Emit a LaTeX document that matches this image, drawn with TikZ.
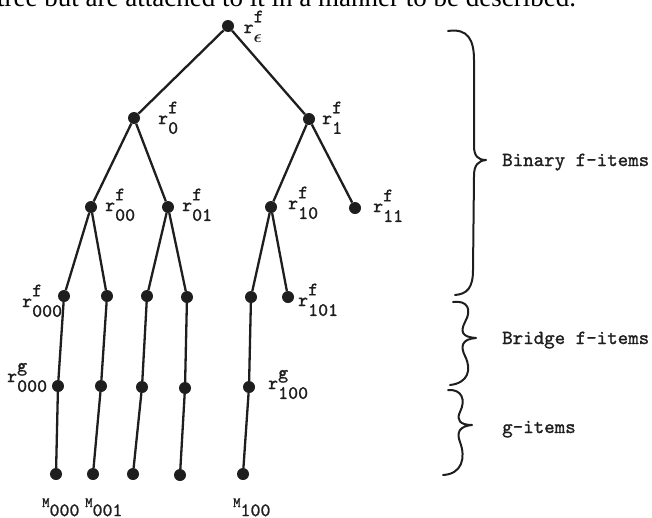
\documentclass[tikz,border=0pt]{standalone}
\usepackage{amsmath}
\usepackage{fontspec}
\newfontfamily\capfont{Liberation Serif}
\newfontfamily\twfont{lmmono10-regular}[Extension=.otf,FakeBold=1.2]
\definecolor{ink}{HTML}{1E1E1E}
\newcommand\lfont{\twfont\fontsize{19}{21}\selectfont}
\newcommand\bfontx{\twfont\fontsize{20}{22}\selectfont}
\newcommand\rlab[2]{r\rlap{\raisebox{0.56em}{#1}}\raisebox{-0.52em}{#2}}
\newcommand\mlab[1]{{\fontsize{14}{16}\selectfont M}\raisebox{-0.48em}{#1}}
\begin{document}
\begin{tikzpicture}[x=1pt,y=-1pt,
  dot/.style={circle,fill=ink,inner sep=0pt,minimum size=12pt},
  edge/.style={draw=ink,line width=2.3pt},
  lab/.style={anchor=base west,inner sep=0pt,font=\lfont,text=ink},
  blab/.style={anchor=base west,inner sep=0pt,font=\bfontx,text=ink},
  bracepath/.style={draw=ink,line width=2pt,line cap=round,line join=round}]
\useasboundingbox (0,0) rectangle (652,517);
% cut-off line of running text
\node[anchor=base west,inner sep=0pt,font=\capfont\fontsize{27}{29}\selectfont] (cap) at (-3,6) {tree but are attached to it in a manner to be described.};
% tree dots
\node[dot] (re) at (228,26) {};
\node[dot] (r0) at (134,118) {};
\node[dot] (r1) at (309,119) {};
\node[dot] (r00) at (91,207) {};
\node[dot] (r01) at (168,207) {};
\node[dot] (r10) at (271,207) {};
\node[dot] (r11) at (355,208) {};
\node[dot] (a3) at (64,296) {};
\node[dot] (b3) at (107,296) {};
\node[dot] (c3) at (147,296) {};
\node[dot] (d3) at (187,297) {};
\node[dot] (e3) at (251,297) {};
\node[dot] (f3) at (288,297) {};
\node[dot] (a4) at (58,386) {};
\node[dot] (b4) at (101,386) {};
\node[dot] (c4) at (142,387) {};
\node[dot] (d4) at (185,388) {};
\node[dot] (e4) at (249,387) {};
\node[dot] (a5) at (56,474) {};
\node[dot] (b5) at (93,474) {};
\node[dot] (c5) at (133,474) {};
\node[dot] (d5) at (180,475) {};
\node[dot] (e5) at (243,474) {};
% edges
\path[edge] (re) -- (r0) (re) -- (r1)
  (r0) -- (r00) (r0) -- (r01) (r1) -- (r10) (r1) -- (r11)
  (r00) -- (a3) (r00) -- (b3) (r01) -- (c3) (r01) -- (d3)
  (r10) -- (e3) (r10) -- (f3)
  (a3) -- (a4) (b3) -- (b4) (c3) -- (c4) (d3) -- (d4) (e3) -- (e4)
  (a4) -- (a5) (b4) -- (b5) (c4) -- (c5) (d4) -- (d5) (e4) -- (e5);
% labels
\node[lab] (lre) at (243.5,33) {\rlab{f}{$\boldsymbol{\epsilon}$}};
\node[lab] (lr0) at (158,124) {\rlab{f}{0}};
\node[lab] (lr1) at (322,124) {\rlab{f}{1}};
\node[lab] (lr00) at (105,211) {\rlab{f}{00}};
\node[lab] (lr01) at (182,211) {\rlab{f}{01}};
\node[lab] (lr10) at (288,209) {\rlab{f}{10}};
\node[lab] (lr11) at (373,212) {\rlab{f}{11}};
\node[lab] (lr000) at (22,307) {\rlab{f}{000}};
\node[lab] (lr101) at (298,306) {\rlab{f}{101}};
\node[lab] (lg000) at (7,382) {\rlab{g}{000}};
\node[lab] (lg100) at (268,389) {\rlab{g}{100}};
\node[lab] (lm000) at (42,507) {\mlab{000}};
\node[lab] (lm001) at (85,507) {\mlab{001}};
\node[lab] (lm100) at (233,507) {\mlab{100}};
% braces
\draw[bracepath] (448,31) .. controls (468,28) and (474,40) .. (474,60)
  -- (474,146) .. controls (474,156) and (478,160) .. (486,160)
  .. controls (478,161) and (474,165) .. (474,176)
  -- (473,270) .. controls (473,288) and (467,294) .. (455,295);
\draw[bracepath] (453,302) .. controls (468,300) and (472,310) .. (465,322)
  .. controls (460,332) and (462,337) .. (476,338)
  .. controls (462,339) and (460,346) .. (465,356)
  .. controls (472,370) and (468,383) .. (450,385);
\draw[bracepath] (448,390) .. controls (462,389) and (466,400) .. (460,412)
  .. controls (456,420) and (460,425) .. (472,425)
  .. controls (460,426) and (456,432) .. (460,442)
  .. controls (466,458) and (462,474) .. (443,475);
\node[blab] (tbin) at (502,166) {Binary f-items};
\node[blab] (tbri) at (502,344) {Bridge f-items};
\node[blab] (tg) at (502,433) {g-items};
\end{tikzpicture}
\end{document}
